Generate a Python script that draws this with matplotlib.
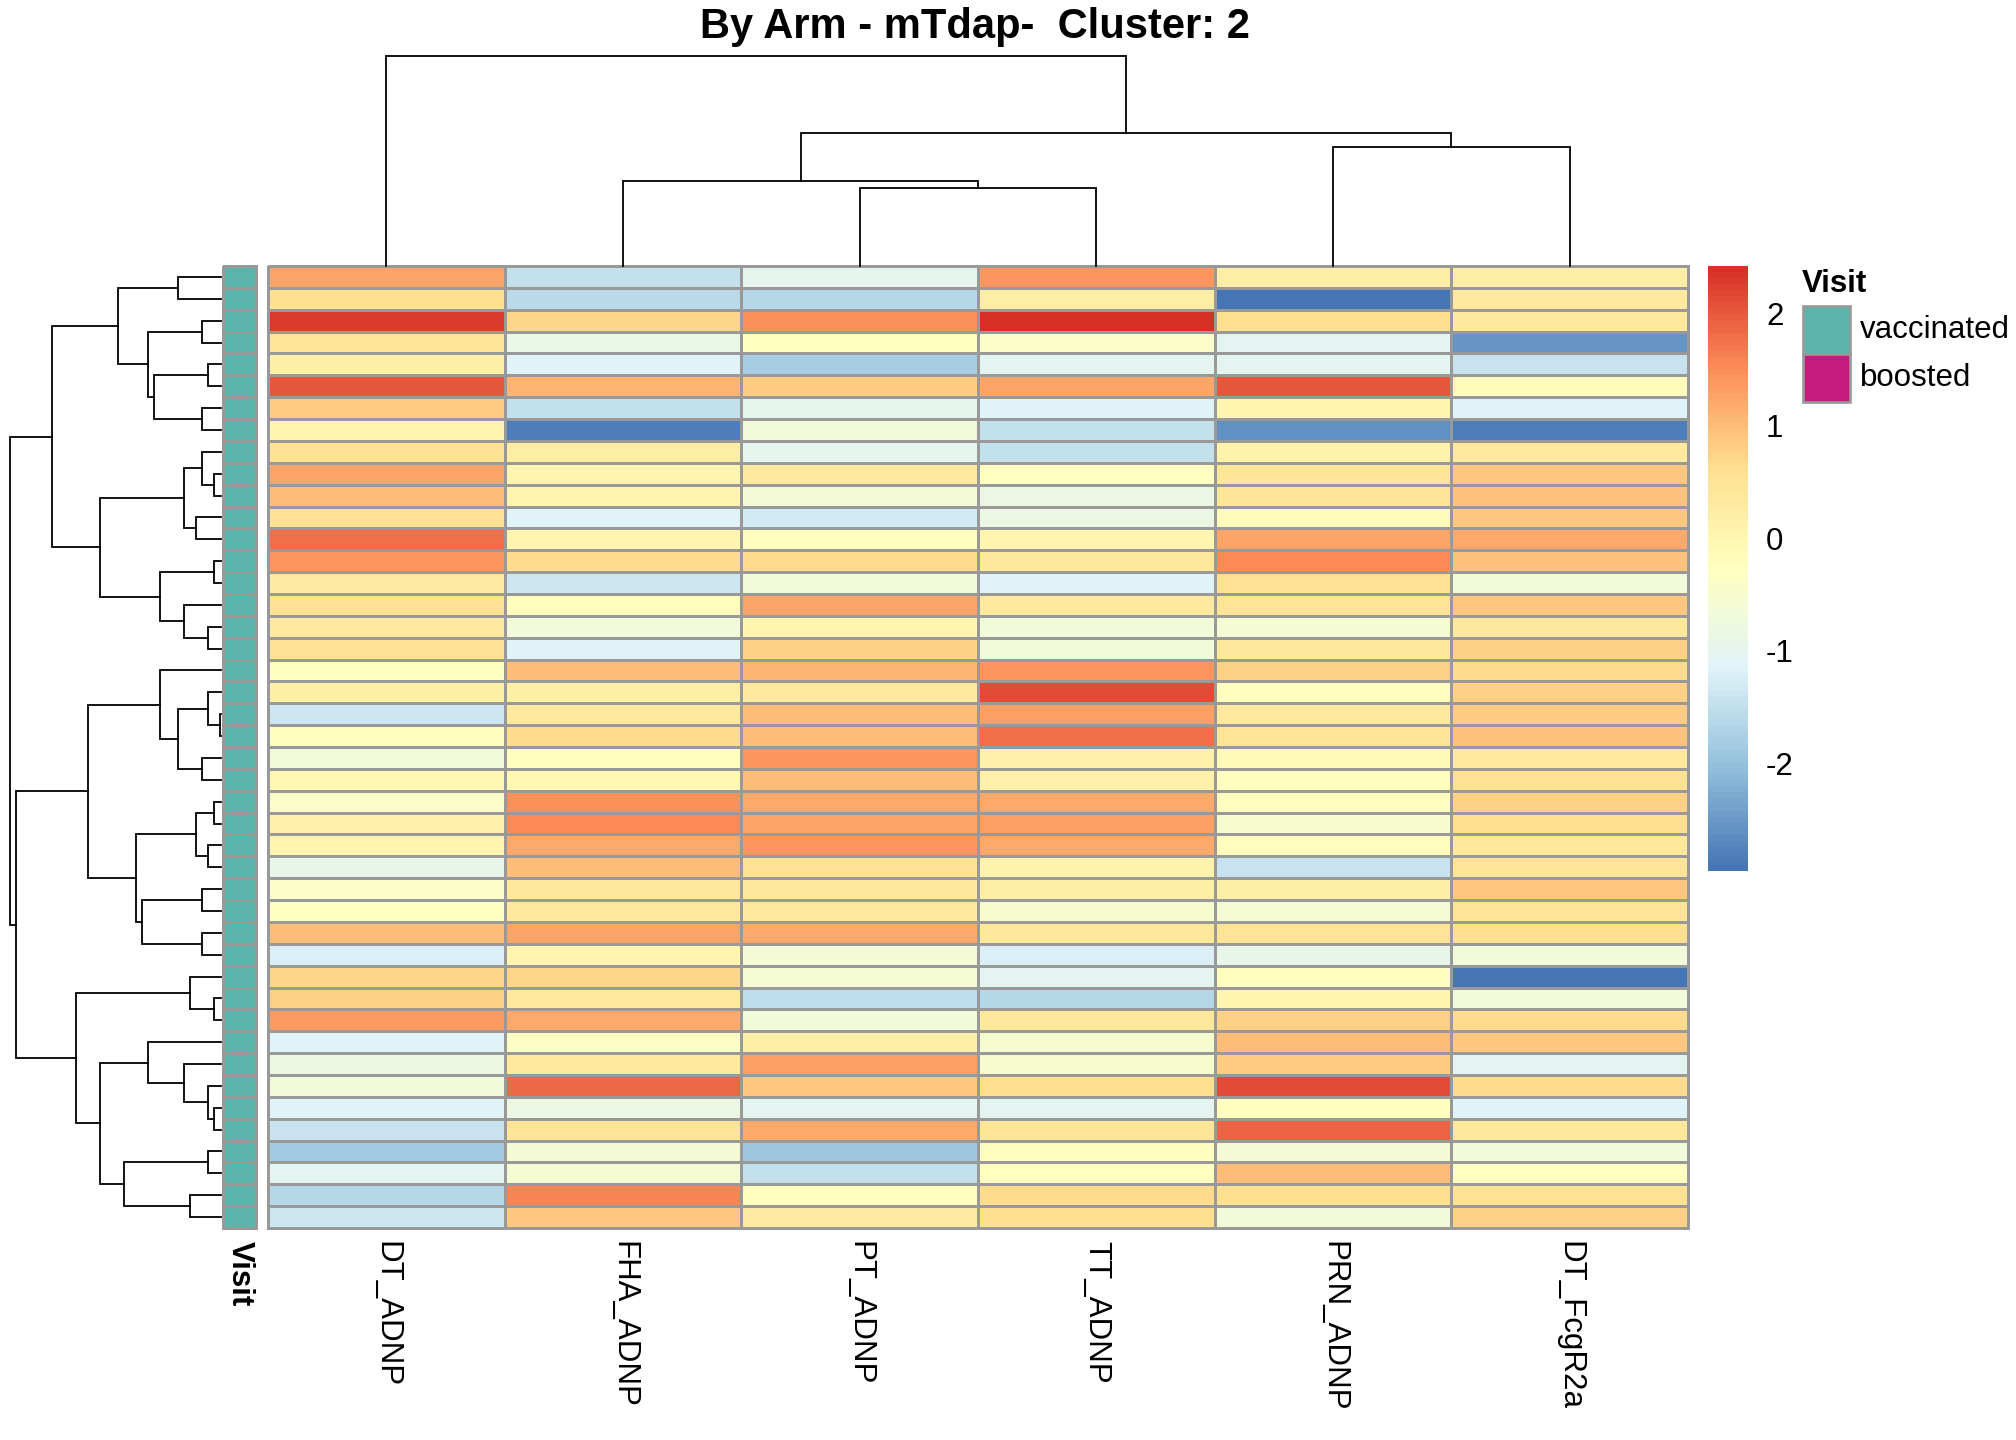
import numpy as np
import matplotlib
matplotlib.use("Agg")
import matplotlib.pyplot as plt
from matplotlib.colors import LinearSegmentedColormap, ListedColormap, Normalize
from matplotlib.patches import Rectangle
import matplotlib.cm as cm

plt.rcParams['font.family'] = ['Liberation Sans', 'DejaVu Sans']

# ---------------- data ----------------
title = "By Arm - mTdap-  Cluster: 2"
columns = ["DT_ADNP", "FHA_ADNP", "PT_ADNP", "TT_ADNP", "PRN_ADNP", "DT_FcgR2a"]
visit_levels = ["vaccinated", "boosted"]
visit_colors = ["#5AB4AC", "#C51B7D"]
visit = ["vaccinated"] * 44

values = [
    [1.25, -1.5, -1.0, 1.45, 0.25, 0.25],
    [0.6, -1.6, -1.65, 0.25, -2.96, 0.35],
    [2.3, 0.7, 1.5, 2.42, 0.6, 0.35],
    [0.5, -0.9, -0.28, -0.4, -1.05, -2.55],
    [0.2, -1.17, -1.8, -1.05, -1.05, -1.4],
    [2.0, 1.1, 0.85, 1.25, 2.0, -0.2],
    [0.85, -1.5, -1.0, -1.15, 0.05, -1.15],
    [0.05, -2.85, -0.65, -1.5, -2.6, -2.8],
    [0.55, 0.25, -1.0, -1.5, 0.1, 0.35],
    [1.25, 0.0, 0.35, -0.28, 0.45, 0.9],
    [1.0, 0.05, -0.6, -0.85, 0.45, 0.95],
    [0.55, -1.15, -1.3, -0.85, -0.2, 0.9],
    [1.8, 0.05, -0.25, 0.05, 1.25, 1.2],
    [1.4, 0.65, 0.65, 0.4, 1.55, 0.95],
    [0.3, -1.35, -0.7, -1.15, 0.55, -0.7],
    [0.55, -0.25, 1.25, 0.35, 0.5, 0.9],
    [0.35, -0.65, 0.0, -0.65, -0.55, 0.4],
    [0.55, -1.15, 0.8, -0.7, 0.4, 0.8],
    [-0.28, 1.0, 1.1, 1.4, 0.8, 0.65],
    [0.2, 0.2, 0.35, 2.1, -0.25, 0.8],
    [-1.35, 0.35, 1.0, 1.3, 0.35, 0.85],
    [-0.25, 0.65, 1.0, 1.8, 0.5, 0.95],
    [-0.7, -0.25, 1.4, 0.15, -0.15, 0.35],
    [-0.05, -0.05, 1.0, 0.15, -0.25, 0.55],
    [-0.4, 1.5, 1.2, 1.2, -0.25, 0.8],
    [0.15, 1.55, 1.25, 1.3, -0.5, 0.6],
    [0.0, 1.2, 1.4, 1.2, -0.25, 0.4],
    [-0.95, 1.0, 0.55, 0.1, -1.4, 0.5],
    [-0.4, 0.4, 0.4, 0.2, 0.2, 0.9],
    [-0.3, 0.35, 0.35, -0.5, -0.55, 0.5],
    [1.0, 1.25, 1.2, 0.4, 0.5, 0.6],
    [-1.2, 0.05, -0.6, -1.2, -0.95, -0.7],
    [0.7, 0.7, -0.55, -1.05, -0.25, -2.95],
    [0.8, 0.35, -1.55, -1.65, 0.05, -0.7],
    [1.35, 1.2, -0.65, 0.4, 0.8, 0.65],
    [-1.15, -0.35, 0.2, -0.5, 1.0, 0.9],
    [-0.8, 0.35, 1.3, -0.5, 0.85, -1.05],
    [-0.7, 1.85, 0.9, 0.6, 2.1, 0.65],
    [-1.15, -0.85, -1.05, -1.05, -0.25, -1.15],
    [-1.4, 0.5, 1.2, 0.45, 1.9, 0.4],
    [-1.85, -0.6, -1.9, -0.25, -0.6, -0.65],
    [-1.05, -0.55, -1.5, -0.3, 1.0, -0.28],
    [-1.65, 1.6, -0.25, 0.65, 0.6, 0.55],
    [-1.35, 0.9, 0.3, 0.6, -0.65, 0.8],
]

# row clustering merges (left id, right id, height); ids >= 44 are earlier merges
row_merges = [
    (0, 1, 128), (2, 3, 56), (4, 5, 38), (6, 7, 56), (46, 47, 201),
    (45, 48, 218), (44, 49, 308), (9, 10, 20), (8, 51, 56), (11, 12, 75),
    (52, 53, 111), (13, 14, 20), (16, 17, 38), (15, 56, 111), (55, 57, 183),
    (54, 58, 363), (50, 59, 506), (20, 21, 3), (19, 61, 38), (22, 23, 56),
    (62, 63, 128), (18, 64, 183), (24, 25, 20), (26, 27, 38), (66, 67, 75),
    (28, 29, 56), (30, 31, 56), (69, 70, 236), (68, 71, 255), (65, 72, 398),
    (33, 34, 20), (32, 74, 93), (38, 39, 20), (37, 76, 38), (36, 77, 111),
    (35, 78, 218), (40, 41, 38), (42, 43, 93), (80, 81, 290), (79, 82, 363),
    (75, 83, 435), (73, 84, 615), (60, 85, 633),
]
# column clustering merges
col_merges = [(2, 3, 235), (1, 6, 254), (4, 5, 357), (7, 8, 397), (0, 9, 629)]

# ---------------- styling ----------------
W, H = 2016, 1440
def fx(x):
    return x / W
def fy(y):
    return 1 - y / H

colors7 = ["#4575B4", "#91BFDB", "#E0F3F8", "#FFFFBF", "#FEE090", "#FC8D59", "#D73027"]
cmap = LinearSegmentedColormap.from_list("rdylbu_r", colors7, N=100)
data = np.array(values)
norm = Normalize(vmin=data.min(), vmax=data.max())
grid = "#999999"
LW_GRID = 1.9
LW_TREE = 1.3
FS = 22.5

nrow, ncol = data.shape
hm_l, hm_r, hm_t, hm_b = 268, 1688, 266, 1228

fig = plt.figure(figsize=(W / 100, H / 100), dpi=100)

# heatmap
ax = fig.add_axes([fx(hm_l), fy(hm_b), fx(hm_r - hm_l), (hm_b - hm_t) / H])
mesh = ax.pcolormesh(np.arange(ncol + 1), np.arange(nrow + 1), data, cmap=cmap, norm=norm,
                     edgecolors=grid, linewidth=LW_GRID)
mesh.set_clip_on(False)
ax.set_xlim(0, ncol)
ax.set_ylim(nrow, 0)
ax.axis("off")

# column labels
for j, name in enumerate(columns):
    ax.text(j + 0.5, nrow + 0.6, name, rotation=270, ha="center", va="top",
            fontsize=FS, transform=ax.transData, clip_on=False)

# annotation column
axa = fig.add_axes([fx(223), fy(hm_b), fx(256 - 223), (hm_b - hm_t) / H])
vidx = np.array([[visit_levels.index(v)] for v in visit])
amesh = axa.pcolormesh(np.arange(2), np.arange(nrow + 1), vidx, cmap=ListedColormap(visit_colors),
                       vmin=-0.5, vmax=1.5, edgecolors=grid, linewidth=LW_GRID)
amesh.set_clip_on(False)
axa.set_xlim(0, 1)
axa.set_ylim(nrow, 0)
axa.axis("off")
axa.text(0.5, nrow + 0.6, "Visit", rotation=270, ha="center", va="top", fontsize=FS,
         fontweight="bold", clip_on=False)


def draw_dendro(axd, merges, n, orient):
    pos = {i: i + 0.5 for i in range(n)}
    hgt = {i: 0.0 for i in range(n)}
    for k, (a, b, h) in enumerate(merges):
        node = n + k
        pa, pb = pos[a], pos[b]
        ha_, hb_ = hgt[a], hgt[b]
        if orient == "top":
            axd.plot([pa, pa, pb, pb], [ha_, h, h, hb_], color="black", lw=LW_TREE,
                     solid_joinstyle="miter", clip_on=False)
        else:
            axd.plot([ha_, h, h, hb_], [pa, pa, pb, pb], color="black", lw=LW_TREE,
                     solid_joinstyle="miter", clip_on=False)
        pos[node] = (pa + pb) / 2
        hgt[node] = h
    return max(m[2] for m in merges)


# row dendrogram
axr = fig.add_axes([fx(10), fy(hm_b), fx(221 - 10), (hm_b - hm_t) / H])
mh = draw_dendro(axr, row_merges, nrow, "left")
axr.set_xlim(mh, 0)
axr.set_ylim(nrow, 0)
axr.axis("off")

# column dendrogram
axc = fig.add_axes([fx(hm_l), fy(hm_t), fx(hm_r - hm_l), (hm_t - 56) / H])
mh = draw_dendro(axc, col_merges, ncol, "top")
axc.set_xlim(0, ncol)
axc.set_ylim(0, mh)
axc.axis("off")

# colorbar
cb_t = hm_t
cb_b = 871
cax = fig.add_axes([fx(1708), fy(cb_b), fx(1748 - 1708), (cb_b - cb_t) / H])
cb = fig.colorbar(cm.ScalarMappable(norm=norm, cmap=cmap), cax=cax, ticks=[-2, -1, 0, 1, 2])
cb.outline.set_visible(False)
cax.tick_params(length=0, pad=13, labelsize=FS)
cb.ax.set_yticklabels(["-2", "-1", "0", "1", "2"])

# legend for Visit
fig.text(fx(1802), fy(292), "Visit", fontsize=FS, fontweight="bold", ha="left", va="baseline")
box_top = 306
box_h = 48
for k, (lev, col) in enumerate(zip(visit_levels, visit_colors)):
    y0 = box_top + k * box_h
    fig.add_artist(Rectangle((fx(1803), fy(y0 + box_h)), fx(1850 - 1803), box_h / H,
                             transform=fig.transFigure, facecolor=col, edgecolor=grid,
                             linewidth=LW_GRID))
    fig.text(fx(1860), fy(y0 + box_h / 2), lev, fontsize=FS, ha="left", va="center")

# title
fig.text(fx(975), fy(38), title, fontsize=30, fontweight="bold", ha="center", va="baseline")

fig.savefig("out.png", dpi=100)
